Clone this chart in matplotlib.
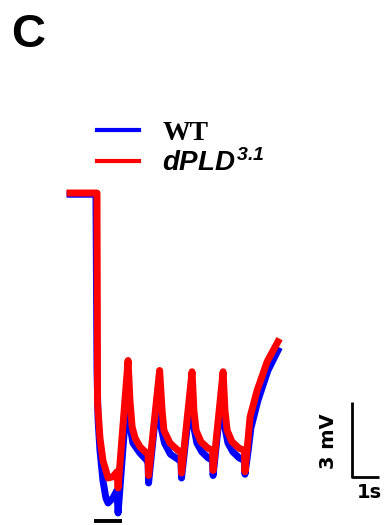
import matplotlib
matplotlib.use('Agg')
import matplotlib.pyplot as plt

# traces: time (s) and membrane potential (mV, relative to baseline)
wt_t = [0.0, 0.96, 1.0, 1.04, 1.11, 1.22, 1.33, 1.41, 1.59, 1.74, 1.78,
        2.11, 2.22, 2.33, 2.59, 2.85, 2.89, 2.91,
        3.28, 3.38, 3.50, 3.72, 4.00, 4.11, 4.13,
        4.49, 4.59, 4.70, 4.88, 5.12, 5.28, 5.30,
        5.64, 5.74, 5.85, 6.03, 6.27, 6.46, 6.48,
        6.60, 6.70, 6.96, 7.33, 7.70]
wt_v = [-0.05, -0.05, -7.1, -9.1, -10.3, -11.5, -12.2, -12.4, -12.2, -11.9, -12.8,
        -8.1, -9.3, -10.0, -10.4, -10.7, -10.8, -11.6,
        -7.7, -9.4, -10.0, -10.45, -10.65, -10.75, -11.4,
        -7.9, -9.4, -10.0, -10.35, -10.6, -10.7, -11.3,
        -7.8, -9.4, -10.0, -10.35, -10.6, -10.7, -11.25,
        -10.3, -9.4, -8.3, -7.1, -6.3]

pld_t = [0.0, 1.0, 1.02, 1.11, 1.22, 1.41, 1.59, 1.74, 1.78,
         2.15, 2.22, 2.30, 2.41, 2.59, 2.78, 2.89, 2.91,
         3.32, 3.41, 3.48, 3.70, 4.00, 4.11, 4.13,
         4.52, 4.59, 4.67, 4.85, 5.10, 5.28, 5.30,
         5.67, 5.74, 5.82, 6.00, 6.25, 6.46, 6.48,
         6.59, 6.67, 6.93, 7.30, 7.70]
pld_v = [0.0, 0.0, -8.4, -9.8, -10.7, -11.4, -11.35, -11.15, -11.8,
         -6.7, -8.3, -9.35, -9.8, -10.15, -10.35, -10.45, -11.3,
         -7.1, -8.7, -9.5, -10.0, -10.3, -10.35, -11.2,
         -7.15, -8.7, -9.5, -9.95, -10.2, -10.3, -11.1,
         -7.15, -8.7, -9.5, -9.95, -10.2, -10.3, -11.15,
         -9.9, -8.95, -7.9, -6.75, -5.95]

stim_on, stim_off = 0.89, 1.93   # light stimulus (s)
bar_mv, bar_s = 3, 1             # scale bar sizes

plt.rcParams['mathtext.fontset'] = 'custom'
plt.rcParams['mathtext.it'] = 'Liberation Sans:italic:bold'
plt.rcParams['mathtext.rm'] = 'Liberation Sans:italic:bold'

fig = plt.figure(figsize=(3.86, 5.25), dpi=100)
ax = fig.add_axes([0, 0, 1, 1])
ax.set_xlim(-2.593, 11.704)
ax.set_ylim(-13.28, 7.72)
ax.axis('off')

ax.plot(wt_t, wt_v, color='#0000ff', lw=5, label='WT')
ax.plot(pld_t, pld_v, color='#ff0000', lw=5, label=r'$dPLD^{3.1}$')

# stimulus bar
ax.plot([stim_on, stim_off], [-13.1, -13.1], color='k', lw=2.8, solid_capstyle='butt')

# scale bars
x0, y0 = 10.44, -11.36
ax.plot([x0, x0, x0 + bar_s], [y0 + bar_mv, y0, y0], color='k', lw=2, solid_capstyle='butt')
ax.text(x0 - 0.88, y0 + bar_mv / 2 - 0.05, f'{bar_mv} mV', rotation=90, ha='center', va='center',
        fontsize=14, fontweight='bold', family='DejaVu Sans')
ax.text(x0 + bar_s * 0.63, y0 - 0.25, f'{bar_s}s', ha='center', va='top',
        fontsize=14, fontweight='bold', family='DejaVu Sans')

leg = ax.legend(loc='center left', bbox_to_anchor=(0.251, 0.717), frameon=False,
                fontsize=20, handlelength=1.5, handletextpad=0.85, labelspacing=0.1,
                borderpad=0, borderaxespad=0)
for line in leg.get_lines():
    line.set_linewidth(3)
txt = leg.get_texts()
txt[0].set_fontfamily('Liberation Serif')
txt[0].set_fontweight('bold')

fig.text(0.028, 1 - 47 / 525, 'C', fontsize=34, fontweight='bold',
         family='Liberation Sans', va='baseline', ha='left')

fig.savefig('out.png', dpi=100)
